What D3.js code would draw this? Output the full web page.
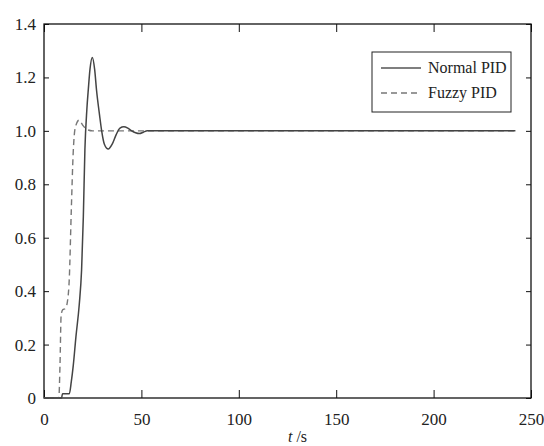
<!DOCTYPE html>
<html>
<head>
<meta charset="utf-8">
<script src="https://cdn.jsdelivr.net/npm/d3@7"></script>
<style>
  body { margin: 0; background: #fff; }
</style>
</head>
<body>
<div id="chart"></div>
<script>
// step response data (t in s, output)
const normalT = [0, 9, 9.5, 13, 14, 15, 16.4, 18.1, 19.3, 20.2, 21, 22, 22.8, 23.6, 24.8, 26, 27, 28.5, 29.6, 31, 33, 35, 37, 39, 41, 43, 45, 47, 49, 51, 53, 242];
const normalY = [0, 0, 0.016, 0.016, 0.06, 0.12, 0.23, 0.35, 0.48, 0.68, 0.93, 1.08, 1.16, 1.23, 1.275, 1.23, 1.15, 1.06, 1.0, 0.95, 0.932, 0.95, 0.985, 1.01, 1.015, 1.01, 1.0, 0.993, 0.99, 0.995, 1.0, 1.0];
const fuzzyT = [0, 7.6, 8.2, 8.8, 9.6, 11, 12, 13, 14, 15, 16, 18, 20, 22, 25, 242];
const fuzzyY = [0, 0, 0.12, 0.31, 0.33, 0.335, 0.36, 0.45, 0.7, 0.92, 1.01, 1.04, 1.02, 1.005, 1.0, 1.0];
const xTicks = [0, 50, 100, 150, 200, 250];
const yTicks = [0, 0.2, 0.4, 0.6, 0.8, 1.0, 1.2, 1.4];
const seriesNames = ["Normal PID", "Fuzzy PID"];

let width = 544, height = 446;
let margin = {left: 44, top: 24, right: 13, bottom: 48};
let plotW = width - margin.left - margin.right, plotH = height - margin.top - margin.bottom;
const serif = "'Liberation Serif', 'Times New Roman', serif";

let svg = d3.select("#chart")
    .append("svg")
    .attr("width", width)
    .attr("height", height)
    .attr("font-family", serif);

let g = svg.append("g")
    .attr("transform", `translate(${margin.left}, ${margin.top})`);

let x = d3.scaleLinear().domain([0, 250]).range([0, plotW]);
let y = d3.scaleLinear().domain([0, 1.4]).range([plotH, 0]);

// axes, ticks pointing inward like matlab
function styleAxis(sel) {
    sel.attr("font-family", serif).attr("font-size", 17);
    sel.select(".domain").remove();
    sel.selectAll("line").attr("stroke", "#111").attr("stroke-width", 1);
    sel.selectAll("text").attr("fill", "#222");
}

g.append("g")
    .attr("transform", `translate(0, ${plotH})`)
    .call(d3.axisBottom(x).tickValues(xTicks).tickFormat(d3.format("d")).tickSizeInner(-8).tickPadding(15))
    .call(styleAxis);
g.append("g")
    .call(d3.axisTop(x).tickValues(xTicks).tickFormat("").tickSizeInner(-8))
    .call(styleAxis);
g.append("g")
    .call(d3.axisLeft(y).tickValues(yTicks).tickFormat(d => d === 0 ? "0" : d3.format(".1f")(d)).tickSizeInner(-5).tickPadding(8))
    .call(styleAxis);
g.append("g")
    .attr("transform", `translate(${plotW}, 0)`)
    .call(d3.axisRight(y).tickValues(yTicks).tickFormat("").tickSizeInner(-5))
    .call(styleAxis);

// frame
g.append("rect")
    .attr("width", plotW)
    .attr("height", plotH)
    .attr("fill", "none")
    .attr("stroke", "#111")
    .attr("stroke-width", 1.3);

let line = d3.line()
    .x(d => x(d[0]))
    .y(d => y(d[1]))
    .curve(d3.curveMonotoneX);

let normalData = normalT.map((t, i) => [t, normalY[i]]);
let fuzzyData = fuzzyT.map((t, i) => [t, fuzzyY[i]]);

g.append("path")
    .datum(fuzzyData)
    .attr("d", line)
    .attr("fill", "none")
    .attr("stroke", "#777")
    .attr("stroke-width", 1.4)
    .attr("stroke-dasharray", "6,4");

g.append("path")
    .datum(normalData)
    .attr("d", line)
    .attr("fill", "none")
    .attr("stroke", "#444")
    .attr("stroke-width", 1.5);

// legend
let legend = svg.append("g").attr("transform", "translate(372, 52)");
legend.append("rect")
    .attr("width", 139)
    .attr("height", 60)
    .attr("fill", "#fff")
    .attr("stroke", "#222")
    .attr("stroke-width", 1);

seriesNames.forEach((name, i) => {
    let ly = 16 + i * 25;
    legend.append("line")
        .attr("x1", 9).attr("x2", 49)
        .attr("y1", ly).attr("y2", ly)
        .attr("stroke", i === 0 ? "#555" : "#777")
        .attr("stroke-width", 1.5)
        .attr("stroke-dasharray", i === 0 ? null : "6,4");
    legend.append("text")
        .attr("x", 56)
        .attr("y", ly + 5)
        .attr("font-size", 16)
        .attr("fill", "#222")
        .text(name);
});

// x label
svg.append("text")
    .attr("x", margin.left + plotW / 2 + 10)
    .attr("y", 442)
    .style("text-anchor", "middle")
    .attr("font-size", 16)
    .attr("fill", "#222")
    .html('<tspan font-style="italic">t</tspan> /s');
</script>
</body>
</html>
